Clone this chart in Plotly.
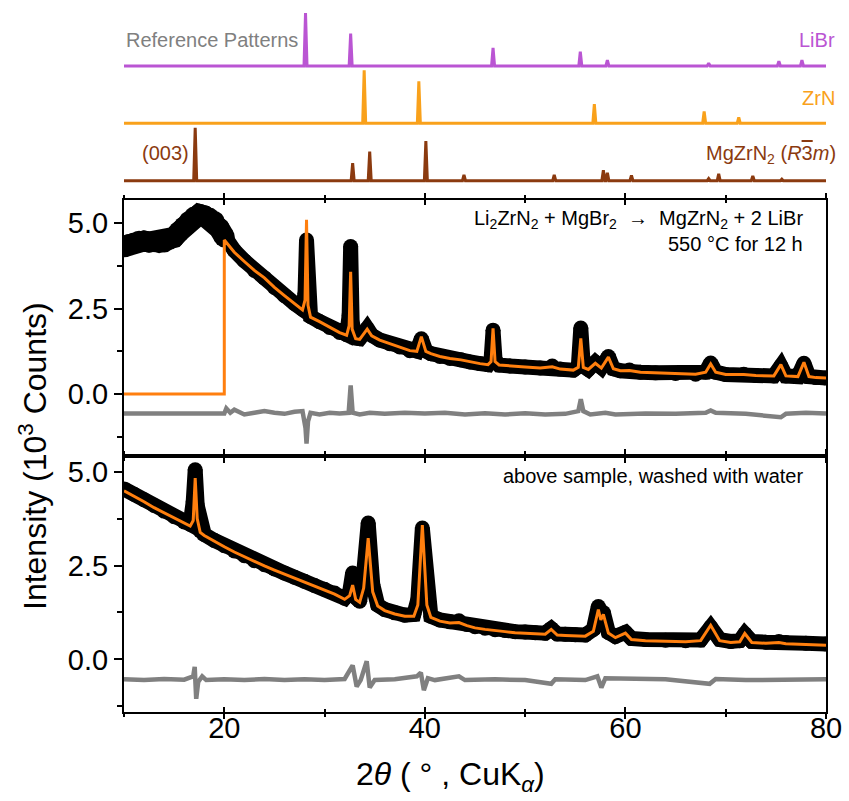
import plotly.graph_objects as go

# ---------------- reference patterns: peak position (2θ) and relative intensity ----------------
libr_pos = [28.1, 32.6, 46.8, 55.5, 58.2, 68.3, 75.3, 77.6]
libr_int = [1.00, 0.61, 0.34, 0.27, 0.11, 0.05, 0.09, 0.11]

zrn_pos = [33.95, 39.4, 56.9, 67.85, 71.3]
zrn_int = [1.00, 0.79, 0.36, 0.22, 0.11]

mgzrn2_pos = [17.1, 32.8, 34.5, 40.1, 43.9, 52.9, 57.8, 58.2, 60.6, 68.3, 69.3, 72.7, 75.6]
mgzrn2_int = [1.00, 0.33, 0.55, 0.75, 0.11, 0.11, 0.20, 0.15, 0.10, 0.04, 0.13, 0.09, 0.03]

# ---------------- as-reacted sample (10^3 counts) ----------------
up_obs_tt = [10, 10.5, 11, 11.5, 12, 12.5, 13, 13.5, 14, 14.5, 15, 15.5, 16, 16.5, 17, 17.5,
             18, 18.5, 19, 19.5, 20, 21, 22, 23, 24, 25, 26, 27, 27.8, 28.05, 28.2, 28.35,
             28.6, 29.5, 30.5, 31.5, 32.2, 32.45, 32.6, 32.75, 33.1, 33.5, 34.25, 34.7, 35.5,
             36.5, 37.5, 38.5, 39.2, 39.65, 40.1, 40.6, 41.5, 42.5, 43.6, 44.5, 45.5, 46.3,
             46.6, 46.8, 47.0, 47.4, 48.5, 50, 51.5, 52.7, 53.5, 54.8, 55.3, 55.55, 55.8, 56.3,
             57.0, 57.6, 58.3, 58.8, 59.5, 60.4, 61.5, 63, 65, 67, 68.0, 68.5, 69.0, 70, 71.8,
             73, 74.8, 75.5, 76.0, 77.2, 77.8, 78.3, 79, 80]
up_obs_i = [4.31, 4.38, 4.42, 4.47, 4.48, 4.45, 4.46, 4.43, 4.45, 4.52, 4.59, 4.75, 4.90, 5.05,
            5.18, 5.26, 5.22, 5.15, 5.05, 4.85, 4.60, 4.20, 3.90, 3.62, 3.40, 3.12, 2.88, 2.65,
            2.48, 2.95, 4.51, 2.75, 2.27, 2.12, 1.95, 1.80, 1.74, 2.3, 4.32, 2.1, 1.64, 1.62,
            1.92, 1.72, 1.58, 1.47, 1.38, 1.27, 1.26, 1.62, 1.26, 1.18, 1.10, 1.04, 1.00, 0.94,
            0.89, 0.86, 1.0, 1.87, 1.0, 0.85, 0.82, 0.79, 0.76, 0.82, 0.73, 0.70, 0.80, 1.93,
            0.82, 0.72, 0.93, 0.78, 1.10, 0.74, 0.68, 0.70, 0.64, 0.62, 0.60, 0.58, 0.64, 0.91,
            0.64, 0.57, 0.58, 0.54, 0.53, 0.82, 0.53, 0.51, 0.90, 0.51, 0.48, 0.47]

up_calc_tt = [10, 20, 20, 21, 22, 23, 24, 25, 26, 27, 27.8, 28.05, 28.2, 28.35, 28.6, 29.5,
              30.5, 31.5, 32.2, 32.45, 32.6, 32.75, 33.1, 33.5, 34.25, 34.7, 35.5, 36.5, 37.5,
              38.5, 39.2, 39.65, 40.1, 40.6, 41.5, 42.5, 43.6, 44.5, 45.5, 46.3, 46.6, 46.8,
              47.0, 47.4, 48.5, 50, 51.5, 52.7, 53.5, 54.8, 55.3, 55.55, 55.8, 56.3, 57.0,
              57.6, 58.3, 58.8, 59.5, 60.4, 61.5, 63, 65, 67, 68.0, 68.5, 69.0, 70, 71.8, 73,
              74.8, 75.5, 76.0, 77.2, 77.8, 78.3, 79, 80]
up_calc_i = [0, 0, 4.51, 4.15, 3.88, 3.62, 3.40, 3.12, 2.88, 2.65, 2.46, 2.75, 5.10, 2.6, 2.25,
             2.12, 1.95, 1.80, 1.72, 2.0, 3.58, 1.9, 1.62, 1.60, 1.90, 1.70, 1.58, 1.47, 1.38,
             1.27, 1.25, 1.68, 1.25, 1.18, 1.10, 1.04, 1.00, 0.94, 0.89, 0.86, 0.95, 1.92,
             0.95, 0.85, 0.82, 0.79, 0.76, 0.80, 0.73, 0.70, 0.78, 1.63, 0.78, 0.72, 0.90,
             0.76, 1.08, 0.74, 0.68, 0.69, 0.64, 0.62, 0.60, 0.58, 0.64, 0.88, 0.64, 0.57,
             0.57, 0.54, 0.53, 0.86, 0.53, 0.51, 0.93, 0.51, 0.48, 0.47]

up_diff_tt = [10, 20, 20.2, 20.6, 21, 22, 23, 24, 25, 26, 27, 27.8, 28.1, 28.2, 28.35, 28.6,
              29.5, 30.5, 31.5, 32.4, 32.6, 32.8, 33.5, 34.5, 36, 38, 40, 42, 44, 46, 48, 50,
              52, 54, 55.3, 55.55, 55.8, 56.5, 58, 59, 62, 65, 68, 68.5, 69, 72, 75.5, 76, 78, 80]
up_diff_i = [-0.57, -0.57, -0.42, -0.55, -0.46, -0.60, -0.55, -0.50, -0.55, -0.58, -0.52,
             -0.50, -1.00, -1.45, -0.80, -0.55, -0.60, -0.55, -0.57, -0.55, 0.25, -0.55, -0.60,
             -0.55, -0.58, -0.55, -0.57, -0.55, -0.60, -0.56, -0.60, -0.56, -0.60, -0.58,
             -0.50, -0.15, -0.50, -0.60, -0.55, -0.60, -0.57, -0.58, -0.55, -0.48, -0.55,
             -0.58, -0.68, -0.58, -0.55, -0.57]

# ---------------- washed sample (10^3 counts) ----------------
lo_obs_tt = [10, 11, 12, 13, 14, 15, 16, 16.6, 16.9, 17.1, 17.3, 17.6, 18, 19, 20, 21, 22, 23,
             24, 25, 26, 27, 28, 29, 30, 31, 32, 32.5, 32.8, 33.1, 33.5, 33.9, 34.35, 34.8,
             35.3, 36, 37, 38, 38.9, 39.3, 39.75, 40.2, 40.6, 41.5, 42.5, 43.4, 44.2, 45, 46,
             47, 48, 49, 50, 51, 52, 52.6, 53.2, 54, 55, 56, 56.8, 57.3, 57.55, 57.8, 58.3, 59,
             60.0, 60.6, 62, 64, 66, 67.5, 68.5, 69.4, 70.5, 71.4, 71.9, 72.6, 74, 75.3, 76,
             78, 80]
lo_obs_i = [4.54, 4.40, 4.25, 4.10, 3.95, 3.80, 3.66, 3.60, 4.2, 5.05, 4.1, 3.42, 3.33, 3.17,
            3.03, 2.89, 2.76, 2.63, 2.52, 2.41, 2.30, 2.19, 2.08, 1.97, 1.87, 1.77, 1.63, 1.80,
            2.30, 1.65, 1.55, 2.3, 3.63, 2.0, 1.45, 1.33, 1.24, 1.18, 1.20, 1.6, 3.50, 1.5,
            1.15, 1.05, 1.00, 1.03, 0.93, 0.87, 0.83, 0.79, 0.77, 0.74, 0.73, 0.71, 0.70, 0.82,
            0.68, 0.67, 0.66, 0.65, 0.80, 1.41, 1.15, 1.25, 0.72, 0.61, 0.72, 0.56, 0.53,
            0.51, 0.50, 0.52, 0.86, 0.53, 0.48, 0.50, 0.68, 0.48, 0.46, 0.48, 0.45, 0.43, 0.41]

lo_calc_tt = lo_obs_tt
lo_calc_i = [4.49, 4.35, 4.20, 4.04, 3.90, 3.76, 3.62, 3.55, 3.70, 4.83, 3.75, 3.38, 3.30,
             3.14, 3.00, 2.86, 2.73, 2.60, 2.49, 2.38, 2.27, 2.16, 2.05, 1.94, 1.84, 1.74,
             1.60, 1.70, 1.98, 1.60, 1.52, 1.90, 3.23, 1.80, 1.42, 1.30, 1.21, 1.15, 1.15,
             1.45, 3.58, 1.45, 1.12, 1.02, 0.97, 0.98, 0.90, 0.84, 0.80, 0.76, 0.74, 0.71,
             0.70, 0.68, 0.67, 0.80, 0.65, 0.64, 0.63, 0.62, 0.75, 1.33, 1.05, 1.20, 0.70,
             0.58, 0.70, 0.53, 0.50, 0.48, 0.47, 0.50, 0.91, 0.50, 0.45, 0.47, 0.69, 0.45,
             0.43, 0.45, 0.42, 0.40, 0.38]

lo_diff_tt = [10, 12, 14, 16, 16.9, 17.05, 17.2, 17.4, 17.8, 18.2, 20, 22, 24, 26, 28, 30, 32,
              32.8, 33.2, 33.6, 34.2, 34.5, 35, 37, 39.2, 39.6, 39.9, 40.3, 41, 43.4, 44, 47,
              50, 52.6, 53, 56, 57.2, 57.6, 58, 60, 64, 68.4, 69, 72, 76, 80]
lo_diff_i = [-0.53, -0.55, -0.52, -0.54, -0.45, -0.20, -1.05, -0.60, -0.45, -0.55, -0.53,
             -0.55, -0.52, -0.55, -0.53, -0.55, -0.52, -0.16, -0.72, -0.55, -0.05, -0.75,
             -0.55, -0.53, -0.45, -0.35, -0.82, -0.50, -0.55, -0.45, -0.55, -0.53, -0.55,
             -0.65, -0.53, -0.55, -0.45, -0.75, -0.50, -0.52, -0.53, -0.65, -0.52, -0.55,
             -0.53, -0.53]

# ---------------- styling ----------------
FONT = "Liberation Sans, Arial, sans-serif"
C_LIBR = "#BA55D3"
C_ZRN = "#F9A11B"
C_MGZRN2 = "#8B3A0F"
C_FIT = "#FF7F0E"
C_DIFF = "#808080"

W, H = 849, 801
ML, MR, MT, MB = 124, 23, 0, 89
PW, PH = W - ML - MR, H - MT - MB


def fx(px):
    return (px - ML) / PW


def fy(py):
    return (MT + PH - py) / PH


TT_MIN, TT_MAX = 10, 80
REF_HW = 0.15           # half width of a reference stick, degrees
REF_BASE = [2.34, 1.26, 0.175]   # vertical offsets of the stacked references
NOISY_BELOW = 20        # amorphous region of the as-reacted scan is drawn with a wider band


def stick_profile(pos, inten, base):
    xs, ys = [TT_MIN], [base]
    for p, h in sorted(zip(pos, inten)):
        xs += [p - REF_HW, p, p + REF_HW]
        ys += [base, base + h, base]
    xs.append(TT_MAX)
    ys.append(base)
    return xs, ys


fig = go.Figure()

# stacked reference patterns
for pos, inten, base, col in [(libr_pos, libr_int, REF_BASE[0], C_LIBR),
                              (zrn_pos, zrn_int, REF_BASE[1], C_ZRN),
                              (mgzrn2_pos, mgzrn2_int, REF_BASE[2], C_MGZRN2)]:
    xs, ys = stick_profile(pos, inten, base)
    fig.add_trace(go.Scatter(x=xs, y=ys, mode="lines", xaxis="x3", yaxis="y3",
                             line=dict(color=col, width=3), showlegend=False))


def band(x, y, xa, ya, width):
    fig.add_trace(go.Scatter(x=x, y=y, mode="lines+markers", xaxis=xa, yaxis=ya,
                             line=dict(color="black", width=width),
                             marker=dict(color="black", size=width), showlegend=False,
                             hoverinfo="skip"))


def add_pattern(obs_x, obs_y, calc_x, calc_y, diff_x, diff_y, xa, ya, wide_below=None):
    if wide_below is not None:
        sel = [k for k, t in enumerate(obs_x) if t <= wide_below]
        band([obs_x[k] for k in sel], [obs_y[k] for k in sel], xa, ya, 21)
    band(obs_x, obs_y, xa, ya, 15)
    fig.add_trace(go.Scatter(x=calc_x, y=calc_y, mode="lines", xaxis=xa, yaxis=ya,
                             line=dict(color=C_FIT, width=3), showlegend=False))
    fig.add_trace(go.Scatter(x=diff_x, y=diff_y, mode="lines", xaxis=xa, yaxis=ya,
                             line=dict(color=C_DIFF, width=4.5), showlegend=False))


add_pattern(up_obs_tt, up_obs_i, up_calc_tt, up_calc_i, up_diff_tt, up_diff_i, "x2", "y2",
            wide_below=NOISY_BELOW)
add_pattern(lo_obs_tt, lo_obs_i, lo_calc_tt, lo_calc_i, lo_diff_tt, lo_diff_i, "x", "y")

# empty traces so the overlay tick axes are drawn
for xa, ya in [("x4", "y"), ("x5", "y2")]:
    fig.add_trace(go.Scatter(x=[None], y=[None], xaxis=xa, yaxis=ya, showlegend=False,
                             hoverinfo="skip"))

up_dom = [fy(455.5), fy(200)]
lo_dom = [0, fy(455.5)]
top_dom = [fy(190), 1]

xcommon = dict(range=[TT_MIN, TT_MAX], showline=True, linecolor="black", linewidth=2,
               mirror="ticks", tickmode="linear", tick0=0, dtick=20, ticklen=5,
               tickwidth=1.5, tickcolor="black", showgrid=False, zeroline=False,
               minor=dict(dtick=10, ticklen=3, tickwidth=1.5, tickcolor="black",
                          showgrid=False))

ycommon = dict(showline=True, linecolor="black", linewidth=2, mirror=True,
               tickmode="array", tickvals=[0, 2.5, 5], ticktext=["0.0", "2.5", "5.0"],
               ticks="outside", ticklen=8, tickwidth=1.5, tickcolor="black",
               showgrid=False, zeroline=False,
               tickfont=dict(family=FONT, size=29, color="black"),
               minor=dict(tickvals=[-1.25, 1.25, 3.75], ticks="outside", ticklen=5,
                          tickwidth=1.5, tickcolor="black", showgrid=False))

fig.update_layout(
    width=W, height=H, margin=dict(l=ML, r=MR, t=MT, b=MB),
    paper_bgcolor="white", plot_bgcolor="white",
    font=dict(family=FONT, color="black"),
    xaxis=dict(xcommon, anchor="y", ticks="outside", ticklabelstandoff=-16,
               minor=dict(xcommon["minor"], ticks="outside"),
               tickfont=dict(family=FONT, size=29, color="black")),
    xaxis4=dict(xcommon, anchor="y", overlaying="x", ticks="inside",
                minor=dict(xcommon["minor"], ticks="inside"), showticklabels=False),
    xaxis2=dict(xcommon, anchor="y2", matches="x", ticks="outside",
                minor=dict(xcommon["minor"], ticks="outside"), showticklabels=False),
    xaxis5=dict(xcommon, anchor="y2", overlaying="x2", ticks="inside",
                minor=dict(xcommon["minor"], ticks="inside"), showticklabels=False),
    xaxis3=dict(range=[TT_MIN, TT_MAX], anchor="y3", visible=False),
    yaxis=dict(ycommon, domain=lo_dom, anchor="x", range=[-1.40, 5.43]),
    yaxis2=dict(ycommon, domain=up_dom, anchor="x2", range=[-1.80, 5.68]),
    yaxis3=dict(domain=top_dom, anchor="x3", range=[0, 3.585], visible=False),
)

ann = []


def label(text, px, py, size, color, xanchor, textangle=0):
    ann.append(dict(text=text, x=fx(px), y=fy(py), xref="paper", yref="paper",
                    xanchor=xanchor, yanchor="middle", showarrow=False, textangle=textangle,
                    font=dict(family=FONT, size=size, color=color)))


label("Reference Patterns", 124, 40, 20, C_DIFF, "left")
label("LiBr", 837, 40, 20, C_LIBR, "right")
label("ZrN", 837, 98, 20, C_ZRN, "right")
label("(003)", 191, 153, 20, C_MGZRN2, "right")
label("MgZrN<sub>2</sub> (<i>R</i><span style='text-decoration:overline'>3</span><i>m</i>)",
      838, 155, 20, C_MGZRN2, "right")
label("Li<sub>2</sub>ZrN<sub>2</sub> + MgBr<sub>2</sub>  \u2192  MgZrN<sub>2</sub> + 2 LiBr",
      805, 220, 20, "black", "right")
label("550 \u00b0C for 12 h", 805, 244, 20, "black", "right")
label("above sample, washed with water", 805, 476, 20, "black", "right")
label("Intensity (10<sup>3</sup> Counts)", 33, 456, 32, "black", "center", -90)
label("2<i>\u03b8</i> ( \u00b0 , CuK<sub><i>\u03b1</i></sub>)", 450, 776, 32, "black", "center")

fig.update_layout(annotations=ann)
fig.write_html("out.html")
